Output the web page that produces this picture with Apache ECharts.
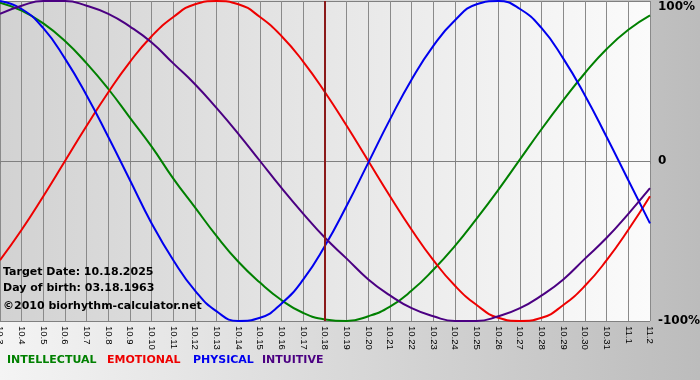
<!DOCTYPE html>
<html>
<head>
    <meta charset="UTF-8">
    <title>Biorhythm</title>
    <script type="text/javascript" src="https://cdn.jsdelivr.net/npm/echarts@6/dist/echarts.min.js"></script>
</head>
<body style="margin: 0;overflow: hidden;background: #fff;">
<div id="chart" style="width: 700px;height: 380px;"></div>
<script type="text/javascript">
    var days = ["10.3", "10.4", "10.5", "10.6", "10.7", "10.8", "10.9", "10.10", "10.11", "10.12",
        "10.13", "10.14", "10.15", "10.16", "10.17", "10.18", "10.19", "10.20", "10.21", "10.22",
        "10.23", "10.24", "10.25", "10.26", "10.27", "10.28", "10.29", "10.30", "10.31", "11.1", "11.2"];
    var targetDay = "10.18";
    var intellectual = [99, 94, 86, 75, 61, 45, 27, 9, -11, -29, -47, -63, -76, -87, -95, -99,
        -100, -97, -91, -81, -68, -53, -36, -18, 1, 20, 38, 55, 70, 82, 91];
    var emotional = [-62, -43, -22, 0, 22, 43, 62, 78, 90, 98, 100, 98, 90, 78, 62, 43,
        22, 0, -22, -43, -62, -78, -90, -98, -100, -98, -90, -78, -62, -43, -22];
    var physical = [100, 95, 83, 64, 41, 15, -12, -39, -62, -81, -94, -100, -98, -89, -74, -53,
        -28, -1, 26, 51, 72, 88, 98, 100, 95, 83, 64, 41, 15, -12, -39];
    var intuitive = [92, 97, 100, 100, 97, 92, 84, 74, 61, 48, 33, 17, 0, -17, -33, -48,
        -61, -74, -84, -92, -97, -100, -100, -97, -92, -84, -74, -61, -48, -33, -17];
    var names = ["INTELLECTUAL", "EMOTIONAL", "PHYSICAL", "INTUITIVE"];
    var colors = ["#008000", "#ee0000", "#0000ee", "#4b0082"];
    var legendX = [7, 107, 193, 262];
    var infoLines = ["Target Date: 10.18.2025", "Day of birth: 03.18.1963", "\u00a92010 biorhythm-calculator.net"];

    var chart = echarts.init(document.getElementById('chart'), null, {renderer: 'canvas'});

    function lineSeries(i, data) {
        return {
            name: names[i],
            type: 'line',
            smooth: true,
            symbol: 'none',
            data: data,
            lineStyle: {color: colors[i], width: 2},
            itemStyle: {color: colors[i]},
            z: 3
        };
    }

    var series = [
        lineSeries(0, intellectual),
        lineSeries(1, emotional),
        lineSeries(2, physical),
        lineSeries(3, intuitive)
    ];
    series[3].markLine = {
        silent: true,
        symbol: 'none',
        label: {show: false},
        lineStyle: {color: '#8b1a1a', width: 2, type: 'solid'},
        data: [{xAxis: targetDay}]
    };

    var graphics = [];
    names.forEach(function (n, i) {
        graphics.push({
            type: 'text', left: legendX[i], top: 355,
            style: {text: n, fill: colors[i], font: 'bold 11px "DejaVu Sans"'}
        });
    });
    var infoTop = [267, 283, 301];
    infoLines.forEach(function (t, i) {
        graphics.push({
            type: 'text', left: 3, top: infoTop[i], z: 10,
            style: {text: t, fill: '#000', font: 'bold 11px "DejaVu Sans"'}
        });
    });

    var option = {
        animation: false,
        backgroundColor: {
            type: 'linear', x: 0, y: 0, x2: 1, y2: 0,
            colorStops: [{offset: 0, color: '#f4f4f4'}, {offset: 1, color: '#bcbcbc'}]
        },
        grid: {
            left: 0, right: 50, top: 1, bottom: 59,
            outerBoundsMode: 'none',
            containLabel: false,
            show: true,
            borderWidth: 0,
            backgroundColor: {
                type: 'linear', x: 0, y: 0, x2: 1, y2: 0,
                colorStops: [{offset: 0, color: '#d2d2d2'}, {offset: 1, color: '#fbfbfb'}]
            }
        },
        xAxis: {
            type: 'category',
            boundaryGap: false,
            data: days,
            axisLine: {lineStyle: {color: '#808080', width: 1}},
            axisTick: {show: true, length: 3, lineStyle: {color: '#808080'}},
            splitLine: {show: true, lineStyle: {color: '#8a8a8a', width: 1}},
            axisLabel: {
                rotate: -90,
                interval: 0,
                margin: 5,
                color: '#000',
                fontFamily: 'Liberation Sans',
                fontSize: 9.5
            }
        },
        yAxis: {
            type: 'value',
            position: 'right',
            min: -100,
            max: 100,
            interval: 100,
            axisLine: {show: false},
            axisTick: {show: false},
            splitLine: {show: true, lineStyle: {color: '#808080', width: 1}},
            axisLabel: {
                margin: 8,
                color: '#000',
                fontWeight: 'bold',
                fontFamily: 'DejaVu Sans',
                fontSize: 12,
                verticalAlignMaxLabel: 'top',
                formatter: function (v) {
                    return v === 0 ? '0' : v + '%';
                }
            }
        },
        graphic: graphics,
        series: series
    };
    chart.setOption(option);
</script>
</body>
</html>
